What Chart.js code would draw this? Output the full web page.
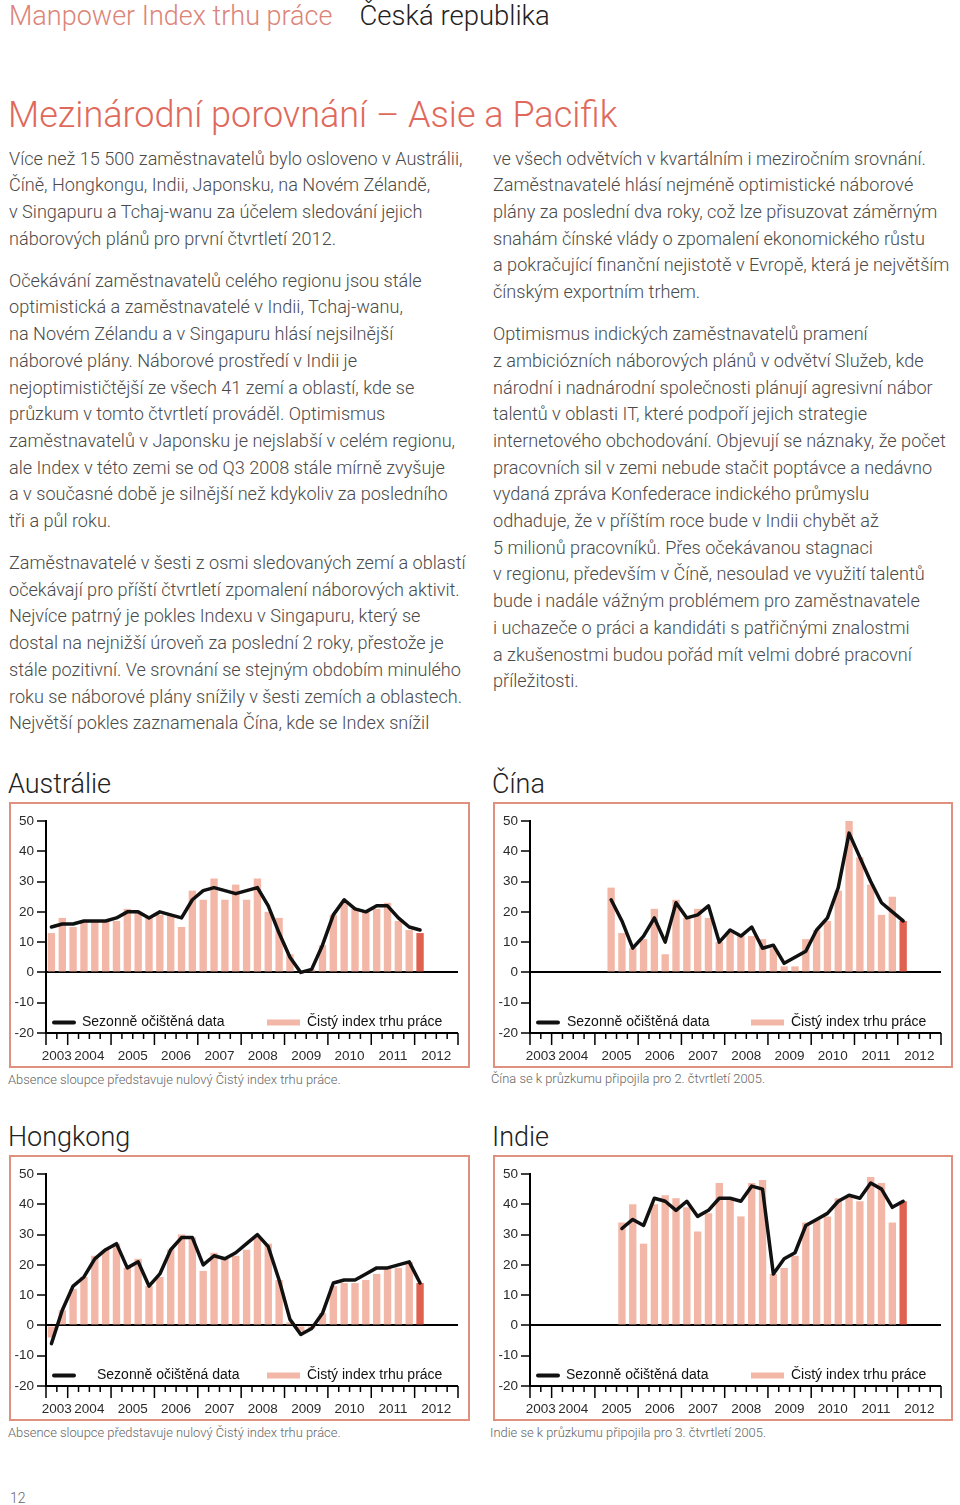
<!DOCTYPE html>
<html>
<head>
<meta charset="utf-8">
<script src="https://cdn.jsdelivr.net/npm/chart.js@4.4.1/dist/chart.umd.min.js"></script>
<style>
  body { margin: 0; background: #fff; width: 960px; height: 1505px; position: relative; font-family: Roboto, "Liberation Sans", sans-serif; font-weight: 300; color: #4a4a4a; overflow: hidden; }
  .abs { position: absolute; white-space: nowrap; }
  .hdr { top: 0; left: 9px; font-size: 27px; line-height: 32px; color: #dc8478; }
  .hdr span { color: #222; margin-left: 27px; font-size: 27.5px; }
  .title { top: 94px; left: 8px; font-size: 36px; line-height: 42px; color: #e0695b; }
  .col { font-size: 18.1px; line-height: 26.7px; }
  .col p { margin: 15.3px 0 0 0; }
  .col p:first-child { margin-top: 0; }
  .ctitle { font-size: 27px; line-height: 34px; color: #222; }
  .frame { position: absolute; border: 2px solid #e0907f; box-sizing: border-box; height: 266px; }
  .frame canvas { position: absolute; left: 0; top: 0; }
  .cap { font-size: 12.9px; line-height: 16px; color: #666; }
</style>
</head>
<body>
<div class="abs hdr">Manpower Index trhu práce<span>Česká republika</span></div>
<div class="abs title">Mezinárodní porovnání – Asie a Pacifik</div>

<div class="abs col" style="left:9px; top:145.6px;">
<p>Více než 15 500 zaměstnavatelů bylo osloveno v Austrálii,<br>Číně, Hongkongu, Indii, Japonsku, na Novém Zélandě,<br>v Singapuru a Tchaj-wanu za účelem sledování jejich<br>náborových plánů pro první čtvrtletí 2012.</p>
<p>Očekávání zaměstnavatelů celého regionu jsou stále<br>optimistická a zaměstnavatelé v Indii, Tchaj-wanu,<br>na Novém Zélandu a v Singapuru hlásí nejsilnější<br>náborové plány. Náborové prostředí v Indii je<br>nejoptimističtější ze všech 41 zemí a oblastí, kde se<br>průzkum v tomto čtvrtletí prováděl. Optimismus<br>zaměstnavatelů v Japonsku je nejslabší v celém regionu,<br>ale Index v této zemi se od Q3 2008 stále mírně zvyšuje<br>a v současné době je silnější než kdykoliv za posledního<br>tři a půl roku.</p>
<p>Zaměstnavatelé v šesti z osmi sledovaných zemí a oblastí<br>očekávají pro příští čtvrtletí zpomalení náborových aktivit.<br>Nejvíce patrný je pokles Indexu v Singapuru, který se<br>dostal na nejnižší úroveň za poslední 2 roky, přestože je<br>stále pozitivní. Ve srovnání se stejným obdobím minulého<br>roku se náborové plány snížily v šesti zemích a oblastech.<br>Největší pokles zaznamenala Čína, kde se Index snížil</p>
</div>

<div class="abs col" style="left:493px; top:145.6px;">
<p>ve všech odvětvích v kvartálním i meziročním srovnání.<br>Zaměstnavatelé hlásí nejméně optimistické náborové<br>plány za poslední dva roky, což lze přisuzovat záměrným<br>snahám čínské vlády o zpomalení ekonomického růstu<br>a pokračující finanční nejistotě v Evropě, která je největším<br>čínským exportním trhem.</p>
<p>Optimismus indických zaměstnavatelů pramení<br>z ambiciózních náborových plánů v odvětví Služeb, kde<br>národní i nadnárodní společnosti plánují agresivní nábor<br>talentů v oblasti IT, které podpoří jejich strategie<br>internetového obchodování. Objevují se náznaky, že počet<br>pracovních sil v zemi nebude stačit poptávce a nedávno<br>vydaná zpráva Konfederace indického průmyslu<br>odhaduje, že v příštím roce bude v Indii chybět až<br>5 milionů pracovníků. Přes očekávanou stagnaci<br>v regionu, především v Číně, nesoulad ve využití talentů<br>bude i nadále vážným problémem pro zaměstnavatele<br>i uchazeče o práci a kandidáti s patřičnými znalostmi<br>a zkušenostmi budou pořád mít velmi dobré pracovní<br>příležitosti.</p>
</div>

<div class="abs ctitle" style="left:8px; top:767px;">Austrálie</div>
<div class="abs ctitle" style="left:492px; top:767px;">Čína</div>
<div class="abs ctitle" style="left:8px; top:1120px;">Hongkong</div>
<div class="abs ctitle" style="left:492px; top:1120px;">Indie</div>

<div class="frame" style="left:9px; top:802px; width:461px;"><canvas id="ausChart" width="457" height="262"></canvas></div>
<div class="frame" style="left:493px; top:802px; width:460px;"><canvas id="chnChart" width="456" height="262"></canvas></div>
<div class="frame" style="left:9px; top:1155px; width:461px;"><canvas id="hkChart" width="457" height="262"></canvas></div>
<div class="frame" style="left:493px; top:1155px; width:460px;"><canvas id="indChart" width="456" height="262"></canvas></div>

<div class="abs cap" style="left:8px; top:1072px;">Absence sloupce představuje nulový Čistý index trhu práce.</div>
<div class="abs cap" style="left:491px; top:1071px;">Čína se k průzkumu připojila pro 2. čtvrtletí 2005.</div>
<div class="abs cap" style="left:8px; top:1425px;">Absence sloupce představuje nulový Čistý index trhu práce.</div>
<div class="abs cap" style="left:490px; top:1425px;">Indie se k průzkumu připojila pro 3. čtvrtletí 2005.</div>
<div class="abs cap" style="left:10px; top:1490px; font-size:14px;">12</div>

<script>
// tick labels: years on the x axis, first year starts at Q3
var years = [2003, 2004, 2005, 2006, 2007, 2008, 2009, 2010, 2011, 2012];
var firstQuarter = 3;
var yTicks = [-20, -10, 0, 10, 20, 30, 40, 50];

// Austrálie
var ausIndex = [13, 18, 15, 17, 17, 17, 17, 21, 20, 18, 19, 19, 15, 27, 24, 31, 24, 29, 24, 31, 20, 18, 6, 0, 1, 9, 19, 23, 21, 20, 21, 23, 17, 14, 13];
var ausSA = [15, 16, 16, 17, 17, 17, 18, 20, 20, 18, 20, 19, 18, 24, 27, 28, 27, 26, 27, 28, 22, 13, 5, 0, 1, 9, 19, 24, 21, 20, 22, 22, 18, 15, 14];

// Čína (od 2. čtvrtletí 2005)
var chnIndex = [null, null, null, null, null, null, null, 28, 13, 8, 11, 21, 6, 24, 18, 21, 18, 10, 13, 12, 12, 11, 8, 2, 2, 11, 14, 17, 27, 51, 38, 29, 19, 25, 17];
var chnSA = [null, null, null, null, null, null, null, 24, 17, 8, 12, 18, 10, 23, 18, 19, 22, 10, 14, 12, 15, 8, 9, 3, 5, 7, 14, 18, 28, 46, 38, 30, 23, 20, 17];

// Hongkong
var hkIndex = [-4, 5, 12, 16, 23, 25, 27, 19, 22, 13, 16, 25, 30, 29, 18, 24, 22, 23, 25, 29, 27, 15, 1, -2, -1, 4, 13, 14, 14, 15, 17, 19, 19, 21, 14];
var hkSA = [-6, 5, 13, 16, 22, 25, 27, 19, 21, 13, 17, 25, 29, 29, 20, 23, 22, 24, 27, 30, 26, 15, 2, -3, -1, 4, 14, 15, 15, 17, 19, 19, 20, 21, 14];

// Indie (od 3. čtvrtletí 2005)
var indIndex = [null, null, null, null, null, null, null, null, 34, 40, 27, 40, 43, 42, 39, 31, 37, 47, 42, 36, 47, 48, 17, 19, 23, 34, 35, 36, 42, 43, 41, 49, 47, 34, 41];
var indSA = [null, null, null, null, null, null, null, null, 32, 35, 33, 42, 41, 38, 41, 36, 38, 42, 42, 41, 46, 45, 17, 22, 24, 33, 35, 37, 41, 43, 42, 47, 45, 39, 41];

var saLabel = 'Sezonně očištěná data';
var indexLabel = 'Čistý index trhu práce';

// quarter slots built from the years
var quarterLabels = [];
var slotYear = [];
var slotQuarter = [];
years.forEach(function (y, k) {
    for (var q = (k === 0 ? firstQuarter : 1); q <= 4; q++) {
        quarterLabels.push(y + ' Q' + q);
        slotYear.push(y);
        slotQuarter.push(q);
    }
});

var PINK = '#f3b7a7';
var RED = '#e0614f';
var chartFont = '"Liberation Sans", Arial, sans-serif';

// draws the bottom axis with quarter ticks, year labels and the legend
var quarterAxis = {
    id: 'quarterAxis',
    afterDraw: function (chart, args, opts) {
        var ctx = chart.ctx, area = chart.chartArea, x = chart.scales.x;
        var n = chart.data.labels.length;
        var w = x.getPixelForValue(1) - x.getPixelForValue(0);
        ctx.save();
        ctx.strokeStyle = '#000';
        ctx.lineWidth = 2;
        ctx.beginPath();
        ctx.moveTo(area.left - 1, area.bottom);
        ctx.lineTo(area.right, area.bottom);
        ctx.stroke();

        ctx.lineWidth = 1.5;
        for (var i = 0; i <= n; i++) {
            var px = i < n ? x.getPixelForValue(i) - w / 2 : x.getPixelForValue(n - 1) + w / 2;
            var major = i === 0 || i === n || slotQuarter[i] === 1;
            ctx.beginPath();
            ctx.moveTo(px, area.bottom);
            ctx.lineTo(px, area.bottom + (major ? 12 : 6));
            ctx.stroke();
        }

        ctx.fillStyle = '#2a2a2a';
        ctx.font = '13.5px ' + chartFont;
        ctx.textAlign = 'center';
        ctx.textBaseline = 'middle';
        years.forEach(function (y) {
            var first = slotYear.indexOf(y), last = slotYear.lastIndexOf(y);
            var cx = (x.getPixelForValue(first) + x.getPixelForValue(last)) / 2;
            ctx.fillText(String(y), cx, area.bottom + 23.5);
        });

        // legend
        var ly = area.bottom - 10.5;
        ctx.strokeStyle = '#111';
        ctx.lineWidth = 4;
        ctx.lineCap = 'round';
        ctx.beginPath();
        ctx.moveTo(area.left + 8, ly);
        ctx.lineTo(area.left + 28, ly);
        ctx.stroke();
        ctx.textAlign = 'left';
        ctx.font = '14px ' + chartFont;
        ctx.fillStyle = '#111';
        ctx.fillText(chart.data.datasets[0].label, area.left + opts.textX, ly);
        ctx.fillStyle = PINK;
        ctx.fillRect(area.left + 221, ly - 3, 33, 6);
        ctx.fillStyle = '#111';
        ctx.fillText(chart.data.datasets[1].label, area.left + 261, ly);
        ctx.restore();
    }
};

function makeChart(id, indexData, saData, legendTextX) {
    var el = document.getElementById(id);
    return new Chart(el.getContext('2d'), {
        type: 'bar',
        data: {
            labels: quarterLabels,
            datasets: [{
                type: 'line',
                label: saLabel,
                data: saData,
                borderColor: '#111',
                borderWidth: 3.5,
                borderJoinStyle: 'round',
                borderCapStyle: 'round',
                pointRadius: 0,
                tension: 0,
                spanGaps: false,
                order: 0
            }, {
                type: 'bar',
                label: indexLabel,
                data: indexData,
                backgroundColor: function (c) {
                    return c.dataIndex === indexData.length - 1 ? RED : PINK;
                },
                barPercentage: 0.68,
                categoryPercentage: 1,
                order: 1
            }]
        },
        options: {
            responsive: false,
            animation: false,
            devicePixelRatio: 1,
            layout: { padding: { top: 17, right: 10, bottom: 33, left: 0 } },
            plugins: {
                legend: { display: false },
                tooltip: { enabled: false },
                quarterAxis: { textX: legendTextX }
            },
            scales: {
                x: { display: false, offset: true },
                y: {
                    min: yTicks[0],
                    max: yTicks[yTicks.length - 1],
                    afterBuildTicks: function (s) { s.ticks = yTicks.map(function (v) { return { value: v }; }); },
                    afterFit: function (s) { s.width = 35; },
                    ticks: { color: '#2a2a2a', font: { family: chartFont, size: 13.5 }, padding: 3 },
                    grid: {
                        drawOnChartArea: true,
                        color: function (c) { return c.tick && c.tick.value === 0 ? '#000' : 'rgba(0,0,0,0)'; },
                        lineWidth: 2,
                        tickColor: '#000',
                        tickWidth: 1.5,
                        tickLength: 9
                    },
                    border: { display: true, color: '#000', width: 2 }
                }
            }
        },
        plugins: [quarterAxis]
    });
}

makeChart('ausChart', ausIndex, ausSA, 36);
makeChart('chnChart', chnIndex, chnSA, 37);
makeChart('hkChart', hkIndex, hkSA, 51);
makeChart('indChart', indIndex, indSA, 36);
</script>
</body>
</html>
